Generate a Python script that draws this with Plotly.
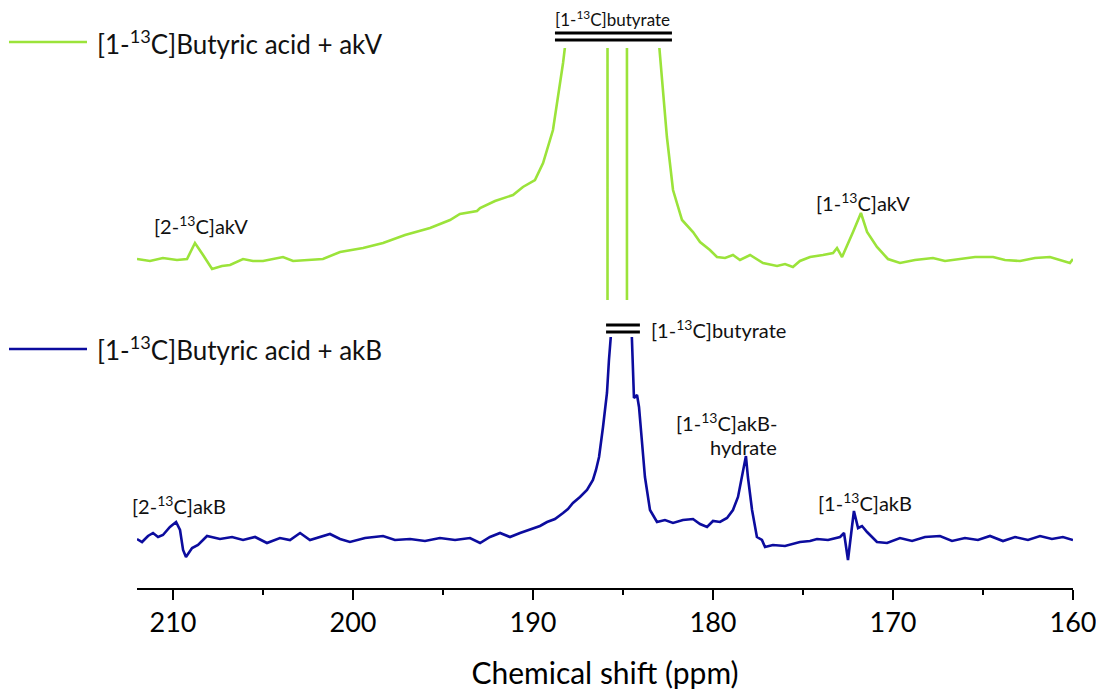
import plotly.graph_objects as go

# ---------------- data ----------------
# [1-13C]Butyric acid + akV  (upper, green) ; None marks the cut between the clipped peaks
akv_ppm = [212.00, 211.28, 210.56, 209.78, 209.22, 208.78, 208.33, 207.83, 207.28, 206.83,
           206.11, 205.56, 205.00, 204.33, 203.89, 203.33, 202.50, 201.67, 200.72, 200.06,
           199.44, 198.33, 197.11, 195.72, 194.61, 194.06, 193.11, 192.94, 192.11, 191.11,
           190.56, 189.89, 189.44, 188.89, 188.61, 188.33, 188.11, 185.94, 185.86, 185.86,
           None,
           184.78, 184.78, 183.11, 182.83, 182.56, 182.22, 181.72, 181.11, 180.72, 180.17,
           179.78, 179.33, 178.89, 178.50, 177.94, 177.22, 176.44, 176.00, 175.56, 175.17,
           174.61, 173.89, 173.33, 173.11, 172.83, 172.22, 171.78, 171.44, 170.89, 170.28,
           169.61, 168.78, 167.78, 167.11, 166.28, 165.44, 164.44, 163.78, 162.94, 162.11,
           161.28, 160.72, 160.17, 160.00]
akv_int = [1, -1, 2, 0, 1, 17, 5, -9, -6, -5,
           1, -1, -1, 1, 3, -1, 0, 1, 8, 10,
           12, 17, 25, 32, 40, 46, 49, 52, 59, 65,
           73, 80, 97, 130, 163, 197, 230, 400, 400, -40,
           None,
           -40, 400, 240, 180, 123, 70, 40, 28, 18, 10,
           3, 2, 5, 0, 5, -3, -6, -4, -7, -1,
           3, 5, 7, 12, 3, 28, 47, 28, 13, 1,
           -3, 0, 2, -1, 1, 3, 3, 0, -1, 2,
           3, 0, -3, 1]

# [1-13C]Butyric acid + akB  (lower, blue)
akb_ppm = [212.00, 211.72, 211.39, 211.11, 210.83, 210.56, 210.17, 209.83, 209.61, 209.44,
           209.28, 209.11, 208.94, 208.61, 208.33, 208.11, 207.39, 206.72, 206.11, 205.44,
           204.78, 204.06, 203.50, 202.94, 202.39, 201.83, 201.28, 200.72, 200.17, 199.33,
           198.33, 197.67, 196.83, 196.00, 195.17, 194.33, 193.50, 192.94, 192.39, 191.83,
           191.28, 190.72, 190.00, 189.61, 189.22, 188.78, 188.33, 188.06, 187.78, 187.39,
           187.00, 186.67, 186.50, 186.33, 186.11, 185.89, 185.78, 185.67, 185.56, 184.56,
           184.50, 184.44, 184.39, 184.22, 184.11, 183.94, 183.78, 183.50, 183.11, 182.67,
           182.22, 181.67, 181.11, 180.72, 180.33, 180.00, 179.61, 179.22, 178.89, 178.61,
           178.33, 178.17, 178.06, 177.83, 177.56, 177.28, 177.11, 176.67, 176.00, 175.17,
           174.61, 174.22, 173.61, 172.94, 172.72, 172.50, 172.28, 172.17, 171.94, 171.72,
           171.44, 170.89, 170.33, 169.61, 168.94, 168.22, 167.39, 166.72, 166.00, 165.28,
           164.61, 163.89, 163.22, 162.50, 161.83, 161.17, 160.56, 160.00]
akb_int = [1, -2, 4, 7, 3, 5, 13, 18, 10, -10,
           -17, -13, -8, -5, 0, 4, 1, 3, 0, 3,
           -3, 2, 0, 7, 0, 3, 6, 1, -2, 2,
           4, 0, 1, -1, 2, 0, 2, -3, 3, 7,
           3, 7, 12, 14, 18, 21, 27, 31, 37, 43,
           50, 60, 70, 83, 113, 147, 180, 203, 230, 230,
           203, 163, 142, 145, 133, 97, 63, 30, 18, 20,
           17, 20, 21, 16, 13, 19, 18, 22, 30, 43,
           70, 84, 63, 30, 3, 0, -7, -5, -6, -2,
           -1, 1, 0, 3, 7, -20, 13, 29, 12, 14,
           8, -2, -3, 2, -1, 3, 4, -1, 2, 0,
           4, -1, 3, 0, 4, 1, 3, 0]

x_ticks = [210, 200, 190, 180, 170, 160]
x_minor = [205, 195, 185, 175, 165]

# peak labels: (text, ppm position, pixel-row, x anchor, y anchor, font size)
labels = [
    ("[2-<sup>13</sup>C]akV", 208.47, 225, "center", "middle", 20),
    ("[1-<sup>13</sup>C]akV", 171.64, 202, "center", "middle", 20),
    ("[1-<sup>13</sup>C]butyrate", 185.61, 31, "center", "bottom", 17),
    ("[1-<sup>13</sup>C]butyrate", 183.50, 329, "left", "middle", 20),
    ("[1-<sup>13</sup>C]akB-", 176.40, 422, "right", "middle", 20),
    ("hydrate", 176.40, 447, "right", "middle", 20),
    ("[1-<sup>13</sup>C]akB", 171.56, 502, "center", "middle", 20),
    ("[2-<sup>13</sup>C]akB", 209.67, 505, "center", "middle", 20),
]
# clipped-peak break marks: (ppm start, ppm end, pixel rows)
breaks = [(188.78, 182.28, [33, 40]), (185.94, 184.06, [325, 332])]

series_names = ["[1-<sup>13</sup>C]Butyric acid + akV", "[1-<sup>13</sup>C]Butyric acid + akB"]
colors = ["#9be33a", "#0c0c9e"]

# ---------------- layout geometry (page has an 8 px body margin) ----------------
OFF = 8
W, H = 1088, 682
PLOT_L, PLOT_R = 137, 1073      # absolute page pixels of the plot area
PLOT_T, PLOT_B = 48, 588
L = PLOT_L - OFF
T = PLOT_T - OFF
R = W - (PLOT_R - OFF)
B = H - (PLOT_B - OFF)
PH = PLOT_B - PLOT_T
PW = PLOT_R - PLOT_L


def py(ypx):            # absolute pixel row -> paper y
    return (PLOT_B - ypx) / PH


def pxp(xpx):           # absolute pixel column -> paper x
    return (xpx - PLOT_L) / PW


FONT = "Lato, 'Open Sans', sans-serif"
fig = go.Figure()

fig.add_trace(go.Scatter(x=akv_ppm, y=akv_int, mode="lines", name=series_names[0],
                         line=dict(color=colors[0], width=2.6), connectgaps=False,
                         xaxis="x", yaxis="y", showlegend=False))
fig.add_trace(go.Scatter(x=akb_ppm, y=akb_int, mode="lines", name=series_names[1],
                         line=dict(color=colors[1], width=2.6),
                         xaxis="x", yaxis="y2", showlegend=False))

BLUE_CLIP = 337
fig.update_layout(
    width=W, height=H,
    margin=dict(l=L, r=R, t=T, b=B, autoexpand=False),
    paper_bgcolor="white", plot_bgcolor="white",
    font=dict(family=FONT, color="#111111"),
    xaxis=dict(range=[212.0, 159.999], anchor="y", tickvals=x_ticks, ticks="outside",
               ticklen=10, tickwidth=2, tickcolor="black", showline=True, linewidth=2,
               linecolor="black", showgrid=False, zeroline=False, ticklabeloverflow="allow",
               tickfont=dict(size=27, family=FONT, color="black"),
               minor=dict(tickvals=x_minor, ticks="outside", ticklen=5, tickwidth=2,
                          tickcolor="black", showgrid=False),
               title=dict(text="Chemical shift (ppm)", font=dict(size=30, family=FONT, color="black"),
                          standoff=41),
               automargin=False),
    yaxis=dict(domain=[0, 1], range=[260 - PLOT_B, 260 - PLOT_T], visible=False, fixedrange=True),
    yaxis2=dict(domain=[0, py(BLUE_CLIP)], range=[540 - PLOT_B, 540 - BLUE_CLIP], anchor="x",
                visible=False, fixedrange=True),
)

# peak labels
for text, xp, yrow, anc, vanc, fs in labels:
    fig.add_annotation(text=text, x=xp, xref="x", y=py(yrow), yref="paper",
                       xanchor=anc, yanchor=vanc, showarrow=False, borderpad=0,
                       font=dict(size=fs, family=FONT, color="#111111"))

# break marks on clipped peaks
for x0, x1, rows in breaks:
    for r in rows:
        fig.add_shape(type="line", x0=x0, x1=x1, xref="x", y0=py(r), y1=py(r), yref="paper",
                      line=dict(color="black", width=3))

# in-figure legend entries
for name, col, row in zip(series_names, colors, [42, 349]):
    fig.add_shape(type="line", x0=pxp(9), x1=pxp(87), xref="paper", y0=py(row), y1=py(row),
                  yref="paper", line=dict(color=col, width=2.6))
    fig.add_annotation(text=name, x=pxp(95), xref="paper", y=py(row), yref="paper",
                       xanchor="left", yanchor="middle", showarrow=False,
                       font=dict(size=26, family=FONT, color="#111111"))

fig.write_html("out.html")
